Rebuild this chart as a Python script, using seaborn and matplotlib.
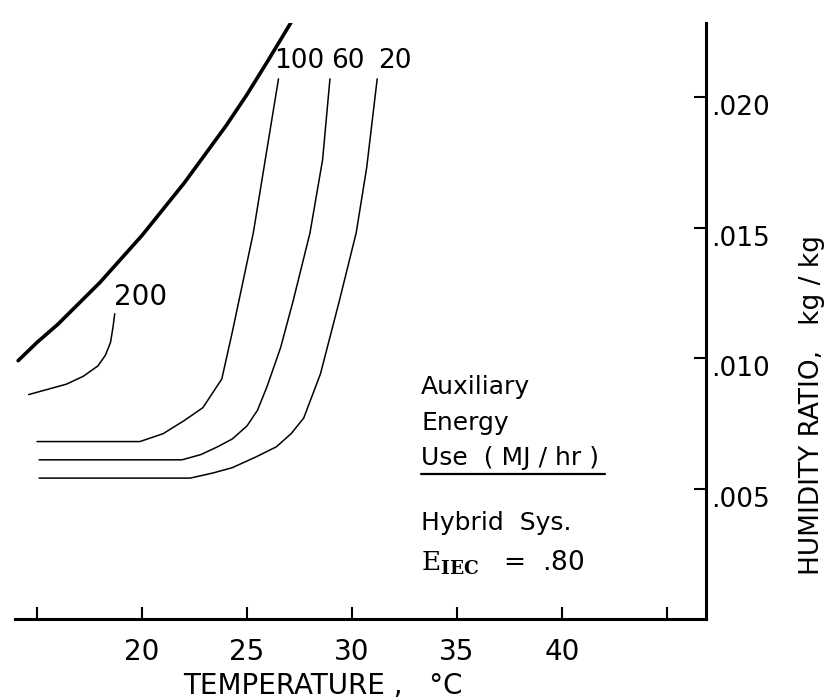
import matplotlib
matplotlib.use("Agg")
import matplotlib.pyplot as plt
import matplotlib.transforms as mtransforms
import pandas as pd
import seaborn as sb
from matplotlib.lines import Line2D

sb.set_style("white")
plt.rcParams['font.family'] = ['DejaVu Sans']
plt.rcParams['mathtext.fontset'] = 'dejavuserif'
plt.rcParams['text.color'] = 'black'
plt.rcParams['xtick.color'] = 'black'
plt.rcParams['ytick.color'] = 'black'

# saturation line (thick one)
sat_t = [14.1, 15.0, 16.0, 17.0, 18.0, 19.0, 20.0, 21.0, 22.0, 23.0, 24.0, 25.0, 26.0, 26.6, 27.2]
sat_w = [0.0099, 0.0106, 0.0113, 0.0121, 0.0129, 0.0138, 0.0147, 0.0157, 0.0167, 0.0178, 0.0189, 0.0201, 0.0214, 0.0222, 0.0230]

# auxiliary energy use lines, MJ/hr
c200_t = [14.6, 15.5, 16.4, 17.2, 17.9, 18.25, 18.5, 18.62, 18.7]
c200_w = [0.0086, 0.0088, 0.0090, 0.0093, 0.0097, 0.0101, 0.0106, 0.0112, 0.0117]

c100_t = [15.0, 19.9, 21.0, 22.0, 22.9, 23.8, 24.3, 24.8, 25.3, 25.95, 26.5]
c100_w = [0.0068, 0.0068, 0.0071, 0.0076, 0.0081, 0.0092, 0.0110, 0.0129, 0.0148, 0.0180, 0.0207]

c60_t = [15.1, 21.9, 22.8, 23.6, 24.3, 25.0, 25.5, 25.95, 26.6, 27.2, 28.0, 28.6, 28.95]
c60_w = [0.0061, 0.0061, 0.0063, 0.0066, 0.0069, 0.0074, 0.0080, 0.0089, 0.0104, 0.0122, 0.0148, 0.0176, 0.0207]

c20_t = [15.1, 22.3, 23.4, 24.3, 25.4, 26.4, 27.1, 27.7, 28.5, 29.4, 30.2, 30.7, 31.2]
c20_w = [0.0054, 0.0054, 0.0056, 0.0058, 0.0062, 0.0066, 0.0071, 0.0077, 0.0094, 0.0122, 0.0148, 0.0173, 0.0207]

temp_ticks = [15, 20, 25, 30, 35, 40, 45]
temp_labels = ['', '20', '25', '30', '35', '40', '']
w_ticks = [0.005, 0.010, 0.015, 0.020]
w_labels = ['.005', '.010', '.015', '.020']

fig = plt.figure(figsize=(8.33, 7), dpi=100)
ax = fig.add_axes([15/833, 81/700, 691/833, 596/700])

sb.lineplot(x=sat_t, y=sat_w, sort=False, estimator=None, color='black', lw=2.6, ax=ax)
for t, w in [(c200_t, c200_w), (c100_t, c100_w), (c60_t, c60_w), (c20_t, c20_w)]:
    df = pd.DataFrame({'t': t, 'w': w})
    sb.lineplot(data=df, x='t', y='w', sort=False, estimator=None, color='black', lw=1.1, ax=ax)

ax.set_xlim(13.95, 46.86)
ax.set_ylim(0, 0.02284)

for s in ['top', 'left']:
    ax.spines[s].set_visible(False)
for s in ['bottom', 'right']:
    ax.spines[s].set_linewidth(2.2)
    ax.spines[s].set_color('black')

ax.set_xticks(temp_ticks)
ax.set_xticklabels(temp_labels)
ax.yaxis.tick_right()
ax.set_yticks(w_ticks)
ax.set_yticklabels(w_labels)
ax.tick_params(axis='x', direction='in', length=9, width=1.5, pad=14, labelsize=20, bottom=True)
ax.tick_params(axis='y', direction='in', length=9, width=1.5, pad=4, labelsize=19, right=True, left=False)
ax.set_xlabel('')
ax.set_ylabel('')

# y labels sit a little under their ticks
shift = mtransforms.ScaledTranslation(0, -8/100, fig.dpi_scale_trans)
for lab in ax.get_yticklabels():
    lab.set_transform(lab.get_transform() + shift)

# curve labels
ax.text(27.5, 0.02138, '100', fontsize=19, ha='center', va='center')
ax.text(29.8, 0.02138, '60', fontsize=19, ha='center', va='center')
ax.text(32.05, 0.02138, '20', fontsize=19, ha='center', va='center')
ax.text(19.95, 0.01234, '200', fontsize=20, ha='center', va='center')

# note block
x0 = 421/833
fig.text(x0, 1 - 387/700, 'Auxiliary', fontsize=18, va='center')
fig.text(x0, 1 - 423/700, 'Energy', fontsize=18, va='center')
fig.text(x0, 1 - 458/700, 'Use  ( MJ / hr )', fontsize=18, va='center')
fig.add_artist(Line2D([x0, 605/833], [1 - 474/700, 1 - 474/700], color='black', lw=1.6))
fig.text(x0, 1 - 523/700, 'Hybrid  Sys.', fontsize=18, va='center')
fig.text(x0, 1 - 563/700, r'$\mathrm{E}_{\mathbf{IEC}}$   =  .80', fontsize=19, va='center')

fig.text(323/833, 1 - 686/700, 'TEMPERATURE ,   °C', fontsize=20, ha='center', va='center')
fig.text(812/833, 1 - 405/700, 'HUMIDITY RATIO,   kg / kg', fontsize=19, rotation=90,
         ha='center', va='center')

fig.savefig('out.png', dpi=100)
